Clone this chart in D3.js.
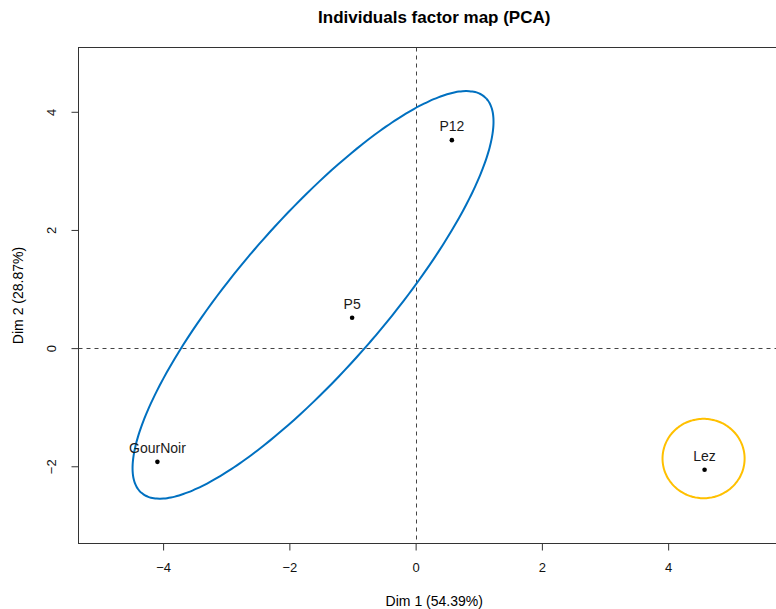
<!DOCTYPE html>
<html>
<head>
<meta charset="utf-8">
<script src="https://cdn.jsdelivr.net/npm/d3@7"></script>
<style>
  body { margin: 0; background: #fff; }
  svg { display: block; font-family: "Liberation Sans", Arial, sans-serif; }
</style>
</head>
<body>
<svg id="mainSVG" width="776" height="609"></svg>
<script>
// chart data
var title = "Individuals factor map (PCA)";
var dimLabels = ["Dim 1 (54.39%)", "Dim 2 (28.87%)"];
var individuals = ["P12", "P5", "GourNoir", "Lez"];
var dim1 = [0.574, -1.006, -4.09, 4.577];
var dim2 = [3.52, 0.513, -1.925, -2.06];
var xTicks = [-4, -2, 0, 2, 4];
var yTicks = [-2, 0, 2, 4];
// cluster ellipses: centre and two conjugate half-axes, in data units
var clusterNames = ["cluster 1", "cluster 2"];
var clusterCentre = [[-1.625, 0.901], [4.561, -1.869]];
var clusterAxisU = [[2.718, 3.351], [0.65, 0]];
var clusterAxisV = [[0.886, -0.820], [0, 0.672]];
var clusterColour = ["#0070C0", "#FFC000"];

var f = { left: 78.5, right: 790, top: 47.5, bottom: 543.5 };

var svg = d3.select("#mainSVG");

var x = d3.scaleLinear().domain([-5.34, 5.93]).range([f.left, f.right]);
var y = d3.scaleLinear().domain([-3.307, 5.088]).range([f.bottom, f.top]);

// title
svg.append("text")
	.attr("x", (f.left + f.right) / 2)
	.attr("y", 23)
	.attr("text-anchor", "middle")
	.style("font-weight", "bold")
	.style("font-size", "17px")
	.text(title);

// dashed zero lines
svg.append("line")
	.attr("x1", Math.round(x(0)) + 0.5).attr("x2", Math.round(x(0)) + 0.5)
	.attr("y1", f.top).attr("y2", f.bottom)
	.attr("stroke", "#444").attr("stroke-dasharray", "4,4");
svg.append("line")
	.attr("x1", f.left).attr("x2", f.right)
	.attr("y1", Math.round(y(0)) + 0.5).attr("y2", Math.round(y(0)) + 0.5)
	.attr("stroke", "#444").attr("stroke-dasharray", "4,4");

// axes
var xAxis = svg.append("g")
	.attr("transform", "translate(0," + f.bottom + ")")
	.call(d3.axisBottom(x).tickValues(xTicks).tickSize(7).tickPadding(12).tickFormat(d3.format("d")));
xAxis.select(".domain").remove();

var yAxis = svg.append("g")
	.attr("transform", "translate(" + f.left + ",0)")
	.call(d3.axisLeft(y).tickValues(yTicks).tickSize(7).tickPadding(0).tickFormat(d3.format("d")));
yAxis.select(".domain").remove();
yAxis.selectAll(".tick text")
	.attr("x", 0).attr("dy", 0)
	.attr("text-anchor", "middle")
	.attr("transform", "translate(-27,0) rotate(-90)")
	.attr("dy", "0.35em");

svg.selectAll(".tick line").attr("stroke", "#333");
svg.selectAll(".tick text")
	.style("font-size", "13px")
	.style("font-family", "'Liberation Sans', Arial, sans-serif")
	.attr("fill", "#111");

// box
svg.append("rect")
	.attr("x", f.left).attr("y", f.top)
	.attr("width", f.right - f.left).attr("height", f.bottom - f.top)
	.attr("fill", "none").attr("stroke", "#333");

// axis titles
svg.append("text")
	.attr("x", (f.left + f.right) / 2)
	.attr("y", 606)
	.attr("text-anchor", "middle")
	.style("font-size", "14px")
	.text(dimLabels[0]);
svg.append("text")
	.attr("transform", "translate(23," + ((f.top + f.bottom) / 2) + ") rotate(-90)")
	.attr("text-anchor", "middle")
	.style("font-size", "14px")
	.text(dimLabels[1]);

// ellipses
var steps = d3.range(0, 361, 2);
var ellipseLine = d3.line().curve(d3.curveCardinalClosed);
clusterNames.forEach(function(name, i) {
	var c = clusterCentre[i], u = clusterAxisU[i], v = clusterAxisV[i];
	var pts = steps.slice(0, -1).map(function(deg) {
		var t = deg * Math.PI / 180;
		return [x(c[0] + Math.cos(t) * u[0] + Math.sin(t) * v[0]),
			y(c[1] + Math.cos(t) * u[1] + Math.sin(t) * v[1])];
	});
	svg.append("path")
		.attr("d", ellipseLine(pts))
		.attr("fill", "none")
		.attr("stroke", clusterColour[i])
		.attr("stroke-width", 2);
});

// individuals
var pts = svg.append("g");
pts.selectAll("circle")
	.data(individuals)
	.enter().append("circle")
	.attr("cx", function(d, i) { return x(dim1[i]); })
	.attr("cy", function(d, i) { return y(dim2[i]); })
	.attr("r", 2.3)
	.attr("fill", "#000");
pts.selectAll("text")
	.data(individuals)
	.enter().append("text")
	.attr("x", function(d, i) { return x(dim1[i]); })
	.attr("y", function(d, i) { return y(dim2[i]) - 9; })
	.attr("text-anchor", "middle")
	.attr("fill", "#1a1a1a")
	.style("font-size", "14px")
	.text(function(d) { return d; });
</script>
</body>
</html>
